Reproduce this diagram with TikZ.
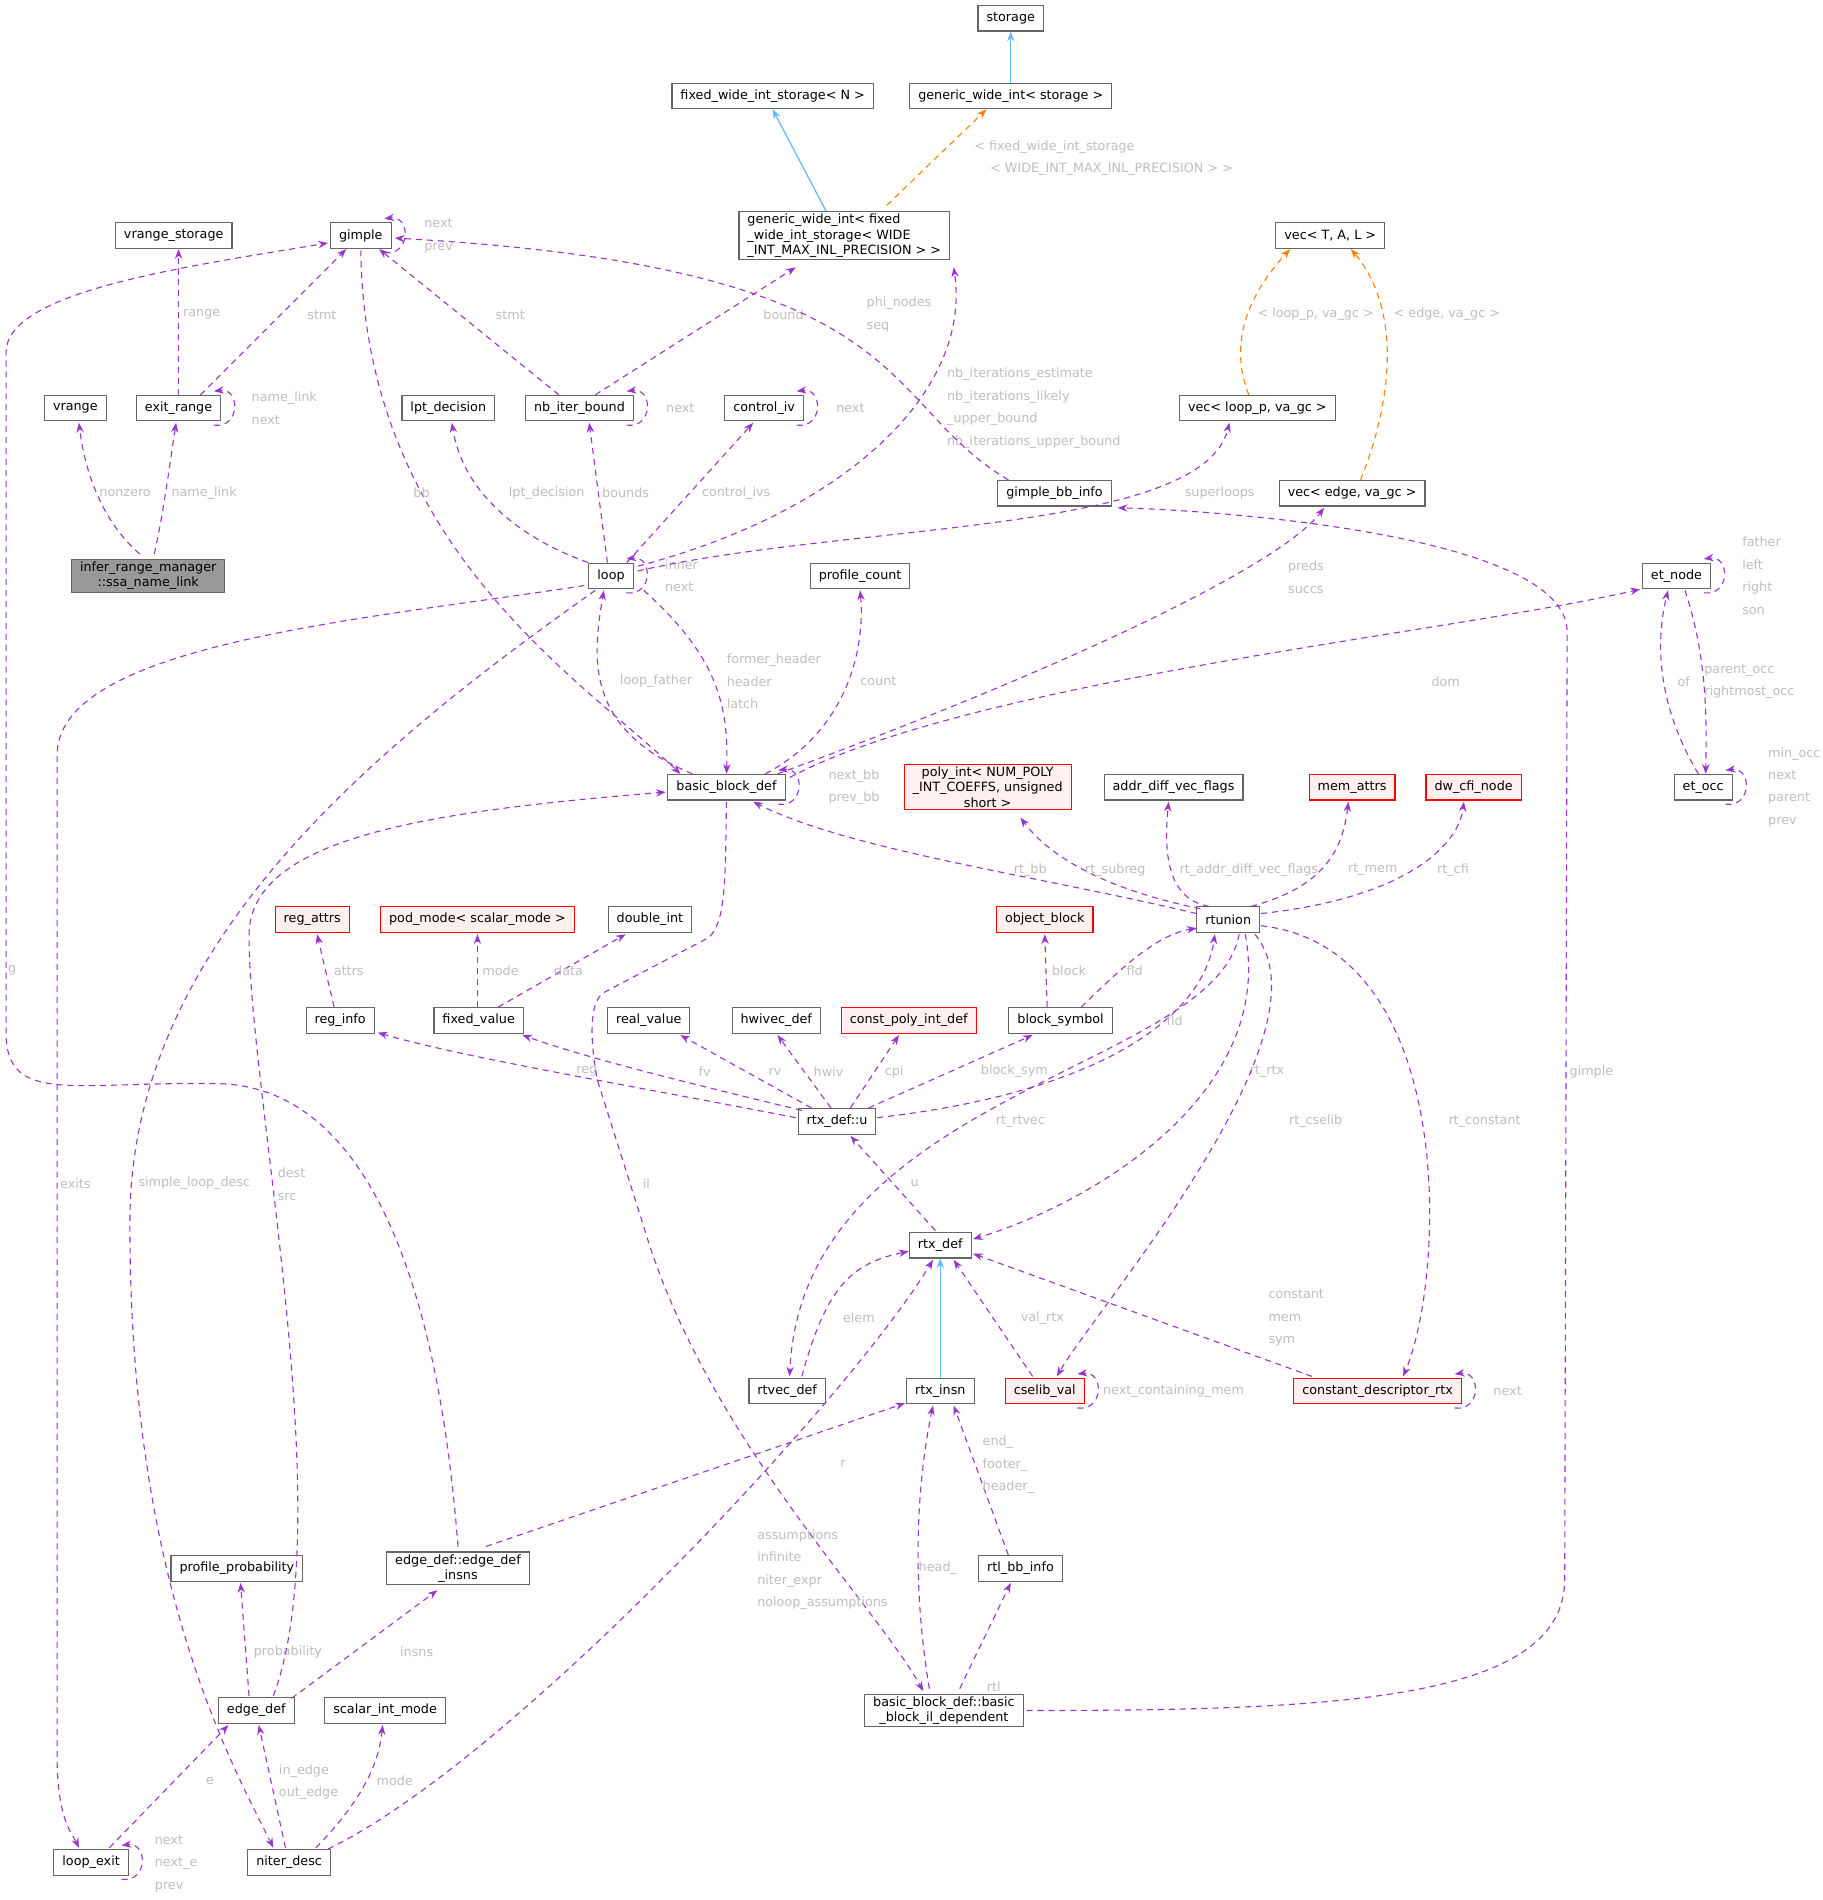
\documentclass[tikz,border=0pt]{standalone}
\usepackage{fontspec}
\setmainfont{DejaVu Sans}
\usetikzlibrary{arrows.meta}
\definecolor{pu}{HTML}{9A32CD}
\definecolor{bl}{HTML}{63B8FF}
\definecolor{lg}{HTML}{BEBEBE}
\definecolor{bd}{HTML}{666666}
\begin{document}
\begin{tikzpicture}[x=1pt,y=-1pt,
 n/.style={draw=bd,line width=0.9pt,fill=white,minimum height=21,inner xsep=7,inner ysep=2,font=\fontsize{10.5}{12.5}\selectfont},
 r/.style={n,draw=red,fill={rgb,255:red,255;green,240;blue,240}},
 pe/.style={draw=pu,line width=0.9pt,dash pattern=on 5pt off 4pt,-{Stealth[length=8pt,width=6pt]}},
 oe/.style={pe,draw=orange,-{Stealth[length=8pt,width=6pt,fill=orange]}},
 be/.style={draw=bl,line width=1pt,-{Stealth[length=8pt,width=6pt]}},
 l/.style={text=lg,font=\fontsize{10.5}{18.5}\selectfont,align=left,inner sep=0},
 sl/.style={pe,to path={([xshift=-6,yshift=-3]\tikztostart.south east) .. controls +(22,3) and +(22,-3) .. ([xshift=-6,yshift=3]\tikztostart.north east)}}
]
\fill[white] (0,0) rectangle (1500,1564);
% nodes
\node[n] (storage) at (832,15) {storage};
\node[n] (fwis) at (636,79) {fixed\_wide\_int\_storage< N >};
\node[n] (gws) at (832,79) {generic\_wide\_int< storage >};
\node[n,align=left] (gwf) at (695,194) {generic\_wide\_int< fixed\\\_wide\_int\_storage< WIDE\\\_INT\_MAX\_INL\_PRECISION > >};
\node[n] (vrs) at (143,194) {vrange\_storage};
\node[n] (gimple) at (297,194) {gimple};
\node[n] (vecT) at (1095,194) {vec< T, A, L >};
\node[n] (vrange) at (62,336) {vrange};
\node[n] (exr) at (147,336) {exit\_range};
\node[n] (lpt) at (369,336) {lpt\_decision};
\node[n] (nib) at (477,336) {nb\_iter\_bound};
\node[n] (civ) at (629,336) {control\_iv};
\node[n] (vlp) at (1035,336) {vec< loop\_p, va\_gc >};
\node[n] (gbi) at (868,406) {gimple\_bb\_info};
\node[n] (vedge) at (1113,406) {vec< edge, va\_gc >};
\node[n,fill={rgb,255:red,153;green,153;blue,153},align=center] (infer) at (122,474) {infer\_range\_manager\\::ssa\_name\_link};
\node[n] (loop) at (503,474) {loop};
\node[n] (pc) at (708,474) {profile\_count};
\node[n] (etn) at (1380,474) {et\_node};
\node[n] (bbd) at (598,648) {basic\_block\_def};
\node[r,align=center] (poly) at (813,648) {poly\_int< NUM\_POLY\\\_INT\_COEFFS, unsigned\\short >};
\node[n] (adv) at (966,648) {addr\_diff\_vec\_flags};
\node[r] (mem) at (1113,648) {mem\_attrs};
\node[r] (dw) at (1213,648) {dw\_cfi\_node};
\node[n] (eto) at (1402,648) {et\_occ};
\node[r] (rega) at (257,757) {reg\_attrs};
\node[r] (pod) at (393,757) {pod\_mode< scalar\_mode >};
\node[n] (dint) at (535,757) {double\_int};
\node[r] (ob) at (860,757) {object\_block};
\node[n] (rtu) at (1011,757) {rtunion};
\node[n] (regi) at (280,840) {reg\_info};
\node[n] (fv) at (394,840) {fixed\_value};
\node[n] (rv) at (534,840) {real\_value};
\node[n] (hw) at (639,840) {hwivec\_def};
\node[r] (cpi) at (748,840) {const\_poly\_int\_def};
\node[n] (bs) at (873,840) {block\_symbol};
\node[n] (u) at (689,923) {rtx\_def::u};
\node[n] (rtx) at (774,1025) {rtx\_def};
\node[n] (rtvec) at (648,1145) {rtvec\_def};
\node[n] (insn) at (774,1145) {rtx\_insn};
\node[r] (csv) at (860,1145) {cselib\_val};
\node[r] (cdr) at (1134,1145) {constant\_descriptor\_rtx};
\node[n] (pp) at (195,1291) {profile\_probability};
\node[n,align=center] (edi) at (377,1291) {edge\_def::edge\_def\\\_insns};
\node[n] (rtl) at (840,1291) {rtl\_bb\_info};
\node[n] (ed) at (211,1408) {edge\_def};
\node[n] (sim) at (317,1408) {scalar\_int\_mode};
\node[n,align=center] (bbil) at (777,1408) {basic\_block\_def::basic\\\_block\_il\_dependent};
\node[n] (lex) at (75,1533) {loop\_exit};
\node[n] (nd) at (238,1533) {niter\_desc};
% solid inheritance
\draw[be] (gws) -- (storage);
\draw[be] (gwf.north -| 680,0) -- (fwis.south);
\draw[be] (insn) -- (rtx);
% orange
\draw[oe] (730,169) -- (812,90);
\draw[oe] (1028,325) .. controls (1010,280) and (1030,240) .. (1062,205);
\draw[oe] (1120,395) .. controls (1150,320) and (1150,250) .. (1112,205);
\node[l] at (868,121) {< fixed\_wide\_int\_storage};
\node[l] at (915,139) {< WIDE\_INT\_MAX\_INL\_PRECISION > >};
\node[l] at (1083,259) {< loop\_p, va\_gc >};
\node[l] at (1191,259) {< edge, va\_gc >};
% self loops
\foreach \a in {gimple,exr,nib,civ,loop,bbd,etn,eto,csv,cdr,lex} \draw[sl] (\a) to (\a);
\node[l] at (361,194) {next\\prev};
\node[l] at (234,336) {name\_link\\next};
\node[l] at (560,336) {next};
\node[l] at (700,336) {next};
\node[l] at (561,474) {inner\\next};
\node[l] at (703,648) {next\_bb\\prev\_bb};
\node[l] at (1450,474) {father\\left\\right\\son};
\node[l] at (1477,648) {min\_occ\\next\\parent\\prev};
\node[l] at (966,1145) {next\_containing\_mem};
\node[l] at (1241,1145) {next};
\node[l] at (145,1534) {next\\next\_e\\prev};
% upper edges
\draw[pe] (147,325) -- (147,205); \node[l] at (166,259) {range};
\draw[pe] (165,325) -- (285,205); \node[l] at (265,259) {stmt};
\draw[pe] (460,325) -- (312,205); \node[l] at (420,259) {stmt};
\draw[pe] (490,325) -- (655,220); \node[l] at (645,259) {bound};
\draw[pe] (115,456) .. controls (85,430) and (70,390) .. (65,348); \node[l] at (103,406) {nonzero};
\draw[pe] (127,456) .. controls (135,420) and (140,380) .. (145,348); \node[l] at (168,406) {name\_link};
\draw[pe] (484,463) .. controls (420,440) and (380,400) .. (372,348); \node[l] at (450,406) {lpt\_decision};
\draw[pe] (500,463) -- (485,348); \node[l] at (515,406) {bounds};
\draw[pe] (516,463) -- (620,348); \node[l] at (606,406) {control\_ivs};
\draw[pe] (525,466) .. controls (700,420) and (800,320) .. (785,220);
\node[l] at (851,336) {nb\_iterations\_estimate\\nb\_iterations\_likely\\\_upper\_bound\\nb\_iterations\_upper\_bound};
\draw[pe] (525,470) .. controls (700,430) and (990,440) .. (1012,348); \node[l] at (1004,406) {superloops};
\draw[pe] (830,395) .. controls (720,330) and (760,220) .. (325,196); \node[l] at (740,259) {phi\_nodes\\seq};
\draw[pe] (297,206) .. controls (300,450) and (480,560) .. (560,637); \node[l] at (347,406) {bb};
\draw[pe] (570,637) .. controls (480,600) and (488,540) .. (497,486); \node[l] at (540,561) {loop\_father};
\draw[pe] (530,486) .. controls (590,540) and (600,580) .. (598,637); \node[l] at (637,561) {former\_header\\header\\latch};
\draw[pe] (630,637) .. controls (700,600) and (712,530) .. (708,486); \node[l] at (723,561) {count};
\draw[pe] (640,637) .. controls (850,560) and (1050,470) .. (1090,418); \node[l] at (1075,475) {preds\\succs};
\draw[pe] (650,640) .. controls (800,560) and (1200,520) .. (1350,485); \node[l] at (1190,561) {dom};
\draw[pe] (1387,486) .. controls (1405,540) and (1405,590) .. (1404,637); \node[l] at (1440,561) {parent\_occ\\rightmost\_occ};
\draw[pe] (1398,637) .. controls (1370,590) and (1360,540) .. (1373,486); \node[l] at (1386,561) {of};
% rtunion
\draw[pe] (985,752) .. controls (850,720) and (700,700) .. (620,660); \node[l] at (848,716) {rt\_bb};
\draw[pe] (988,748) .. controls (900,730) and (860,700) .. (840,673); \node[l] at (918,716) {rt\_subreg};
\draw[pe] (995,746) .. controls (960,740) and (958,700) .. (962,660); \node[l] at (1028,716) {rt\_addr\_diff\_vec\_flags};
\draw[pe] (1030,746) .. controls (1090,730) and (1105,700) .. (1110,660); \node[l] at (1130,716) {rt\_mem};
\draw[pe] (1038,752) .. controls (1150,740) and (1200,700) .. (1205,660); \node[l] at (1196,716) {rt\_cfi};
\draw[pe] (275,829) -- (261,769); \node[l] at (287,799) {attrs};
\draw[pe] (393,829) -- (393,769); \node[l] at (412,799) {mode};
\draw[pe] (410,829) -- (515,769); \node[l] at (468,799) {data};
\draw[pe] (862,829) -- (860,769); \node[l] at (880,799) {block};
\draw[pe] (890,829) .. controls (920,800) and (950,770) .. (985,764); \node[l] at (934,799) {fld};
\draw[pe] (722,920) .. controls (900,900) and (990,840) .. (1000,769); \node[l] at (967,840) {fld};
\draw[pe] (655,920) .. controls (500,890) and (380,870) .. (311,850); \node[l] at (483,882) {reg};
\draw[pe] (660,914) .. controls (560,890) and (480,870) .. (430,852); \node[l] at (580,882) {fv};
\draw[pe] (668,912) -- (560,852); \node[l] at (638,882) {rv};
\draw[pe] (684,912) -- (640,852); \node[l] at (682,882) {hwiv};
\draw[pe] (700,912) -- (740,852); \node[l] at (736,882) {cpi};
\draw[pe] (715,912) -- (850,852); \node[l] at (835,882) {block\_sym};
\draw[pe] (1020,769) .. controls (1000,880) and (660,900) .. (650,1133); \node[l] at (840,923) {rt\_rtvec};
\draw[pe] (1025,769) .. controls (1050,900) and (900,990) .. (801,1020); \node[l] at (1043,882) {rt\_rtx};
\draw[pe] (1033,769) .. controls (1100,850) and (900,1080) .. (870,1133); \node[l] at (1083,923) {rt\_cselib};
\draw[pe] (1038,762) .. controls (1200,780) and (1190,1050) .. (1155,1133); \node[l] at (1222,923) {rt\_constant};
\draw[pe] (770,1013) -- (700,935); \node[l] at (753,974) {u};
\draw[pe] (660,1133) .. controls (680,1060) and (700,1040) .. (748,1030); \node[l] at (707,1085) {elem};
\draw[pe] (850,1133) -- (785,1037); \node[l] at (858,1085) {val\_rtx};
\draw[pe] (1080,1133) -- (801,1032); \node[l] at (1067,1085) {constant\\mem\\sym};
% lower
\draw[pe] (400,1273) -- (745,1155); \node[l] at (694,1205) {r};
\draw[pe] (377,1273) .. controls (360,1050) and (300,895) .. (180,892) .. controls (60,890) and (5,910) .. (5,850) -- (5,290) .. controls (5,240) and (150,220) .. (270,200); \node[l] at (10,799) {g};
\draw[pe] (830,1280) -- (785,1157); \node[l] at (830,1206) {end\_\\footer\_\\header\_};
\draw[pe] (765,1390) .. controls (750,1300) and (755,1220) .. (768,1157); \node[l] at (772,1291) {head\_};
\draw[pe] (790,1390) -- (832,1303); \node[l] at (818,1388) {rtl};
\draw[pe] (845,1408) .. controls (1100,1408) and (1288,1400) .. (1288,1300) -- (1290,520) .. controls (1290,440) and (1000,420) .. (920,418); \node[l] at (1310,882) {gimple};
\draw[pe] (598,660) .. controls (597,720) and (598,760) .. (583,772) -- (497,817) .. controls (484,825) and (486,860) .. (492,890) -- (530,1010) .. controls (580,1180) and (720,1320) .. (760,1392); \node[l] at (532,974) {il};
\draw[pe] (270,1522) .. controls (420,1450) and (700,1150) .. (768,1037); \node[l] at (677,1292) {assumptions\\infinite\\niter\_expr\\noloop\_assumptions};
\draw[pe] (205,1396) -- (198,1303); \node[l] at (237,1360) {probability};
\draw[pe] (240,1398) -- (360,1309); \node[l] at (343,1360) {insns};
\draw[pe] (225,1396) .. controls (280,1250) and (205,900) .. (205,770) .. controls (205,690) and (350,668) .. (548,652); \node[l] at (240,975) {dest\\src};
\draw[pe] (235,1521) -- (213,1420); \node[l] at (254,1467) {in\_edge\\out\_edge};
\draw[pe] (260,1521) .. controls (300,1480) and (312,1450) .. (315,1420); \node[l] at (325,1466) {mode};
\draw[pe] (90,1521) -- (188,1420); \node[l] at (173,1466) {e};
\draw[pe] (481,482) .. controls (300,510) and (50,530) .. (47,620) -- (47,1450) .. controls (48,1500) and (60,1510) .. (65,1521); \node[l] at (62,974) {exits};
\draw[pe] (490,486) .. controls (300,620) and (110,780) .. (107,1000) .. controls (105,1300) and (190,1450) .. (225,1521); \node[l] at (160,974) {simple\_loop\_desc};
\end{tikzpicture}
\end{document}
